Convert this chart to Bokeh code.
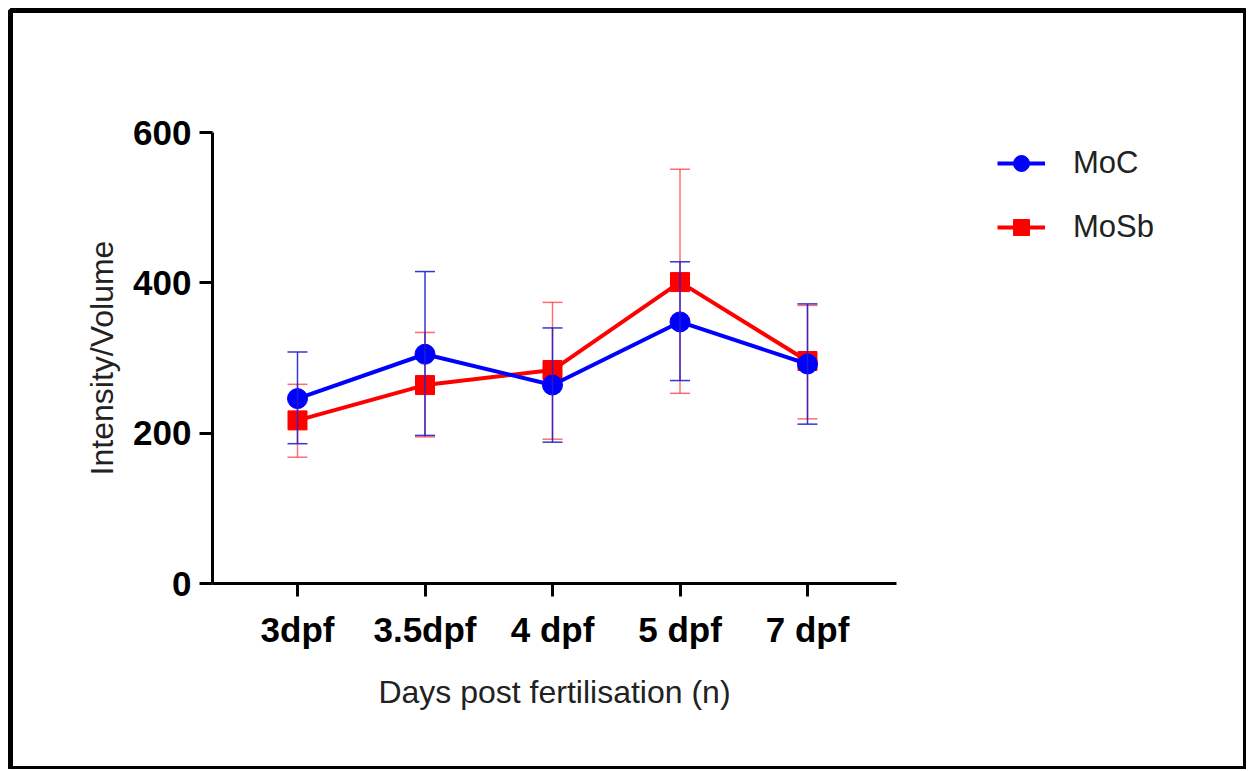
from bokeh.plotting import figure
from bokeh.models import (Range1d, FixedTicker, Whisker, TeeHead, ColumnDataSource,
                          Legend, LegendItem)
from bokeh.embed import file_html
from bokeh.resources import INLINE

# ---- data ----
categories = ["3dpf", "3.5dpf", "4 dpf", "5 dpf", "7 dpf"]
x_pos = [0, 1, 2, 3, 4]
y_ticks = [0, 200, 400, 600]

moc_mean = [246, 305, 264, 348, 292]
moc_upper = [308, 415, 340, 428, 372]
moc_lower = [186, 197, 188, 270, 212]

mosb_mean = [217, 264, 284, 401, 296]
mosb_upper = [265, 334, 374, 551, 370]
mosb_lower = [168, 195, 192, 253, 219]

FONT = "Liberation Sans"

# ---- layout (pixels) ----
W, H = 1246, 769
FL, FR, FT, FB = 10, 1245, 10, 768          # frame edges (outer border drawn as frame outline)
AX_L, AX_R, AX_B, AX_T = 212, 896, 583, 132  # chart axes box
X0_PX, DX_PX = 297, 127.5                    # first category centre and spacing
py = (AX_B - AX_T) / 600.0

x_start = (FL - X0_PX) / DX_PX
x_end = (FR - X0_PX) / DX_PX
y_start = (AX_B - FB) / py
y_end = (AX_B - FT) / py
x_axis_lo = (AX_L - X0_PX) / DX_PX
x_axis_hi = (AX_R - X0_PX) / DX_PX

p = figure(width=W, height=H, output_backend="svg", toolbar_location=None,
           x_range=Range1d(x_start, x_end), y_range=Range1d(y_start, y_end),
           min_border_left=FL, min_border_right=W - FR,
           min_border_top=FT, min_border_bottom=H - FB)

p.grid.visible = False
p.outline_line_color = "black"
p.outline_line_width = 5
p.background_fill_color = "white"
p.border_fill_color = "white"

src_c = ColumnDataSource(dict(x=x_pos, y=moc_mean, up=moc_upper, lo=moc_lower))
src_s = ColumnDataSource(dict(x=x_pos, y=mosb_mean, up=mosb_upper, lo=mosb_lower))

# MoSb error bars (below everything)
w_s = Whisker(source=src_s, base="x", upper="up", lower="lo", level="underlay",
              line_color="#ff2020", line_alpha=0.65, line_width=1.5,
              upper_head=TeeHead(size=20, line_color="#ff2020", line_alpha=0.65, line_width=1.5),
              lower_head=TeeHead(size=20, line_color="#ff2020", line_alpha=0.65, line_width=1.5))
p.add_layout(w_s)

r_sl = p.line("x", "y", source=src_s, line_color="#ff0000", line_width=4)
r_sm = p.scatter("x", "y", source=src_s, marker="square", size=19,
                 fill_color="#ff0000", line_color="#ff0000")

w_c = Whisker(source=src_c, base="x", upper="up", lower="lo", level="glyph",
              line_color="#2020d0", line_alpha=0.9, line_width=1.5,
              upper_head=TeeHead(size=20, line_color="#2020d0", line_alpha=0.9, line_width=1.5),
              lower_head=TeeHead(size=20, line_color="#2020d0", line_alpha=0.9, line_width=1.5))
p.add_layout(w_c)

r_cl = p.line("x", "y", source=src_c, line_color="#0000ff", line_width=4)
r_cm = p.scatter("x", "y", source=src_c, marker="circle", size=20,
                 fill_color="#0000ff", line_color="#0000ff")

# ---- axes (drawn at fixed data locations inside the bordered frame) ----
p.xaxis.fixed_location = 0
p.xaxis.bounds = (x_axis_lo, x_axis_hi)
p.yaxis.fixed_location = x_axis_lo
p.yaxis.bounds = (0, 600)

p.xaxis.ticker = FixedTicker(ticks=x_pos)
p.xaxis.major_label_overrides = {x: c for x, c in zip(x_pos, categories)}
p.yaxis.ticker = FixedTicker(ticks=y_ticks)

for ax in (p.xaxis, p.yaxis):
    ax.axis_line_width = 3
    ax.axis_line_color = "black"
    ax.major_tick_line_width = 3
    ax.major_tick_line_color = "black"
    ax.major_tick_in = 0
    ax.major_tick_out = 13
    ax.minor_tick_line_color = None
    ax.major_label_text_font = FONT
    ax.major_label_text_font_style = "bold"
    ax.major_label_text_font_size = "35px"
    ax.major_label_text_color = "black"
    ax.axis_label_text_font = FONT
    ax.axis_label_text_font_style = "normal"
    ax.axis_label_text_font_size = "32px"
    ax.axis_label_text_color = "#222222"

p.xaxis.axis_label = "Days post fertilisation (n)"
p.yaxis.axis_label = "Intensity/Volume"
p.xaxis.major_label_standoff = 13
p.xaxis.axis_label_standoff = 22
p.yaxis.major_label_standoff = 8
p.yaxis.axis_label_standoff = 10

# ---- legend ----
legend = Legend(items=[LegendItem(label="MoC", renderers=[r_cl, r_cm]),
                       LegendItem(label="MoSb", renderers=[r_sl, r_sm])],
                location=(997 - FL, FB - 247))
legend.border_line_color = None
legend.background_fill_alpha = 0
legend.padding = 0
legend.margin = 0
legend.glyph_width = 48
legend.glyph_height = 40
legend.label_height = 40
legend.spacing = 24
legend.label_standoff = 28
legend.label_text_font = FONT
legend.label_text_font_size = "31px"
legend.label_text_color = "#222222"
p.add_layout(legend)

open("out.html", "w").write(file_html(p, INLINE))
